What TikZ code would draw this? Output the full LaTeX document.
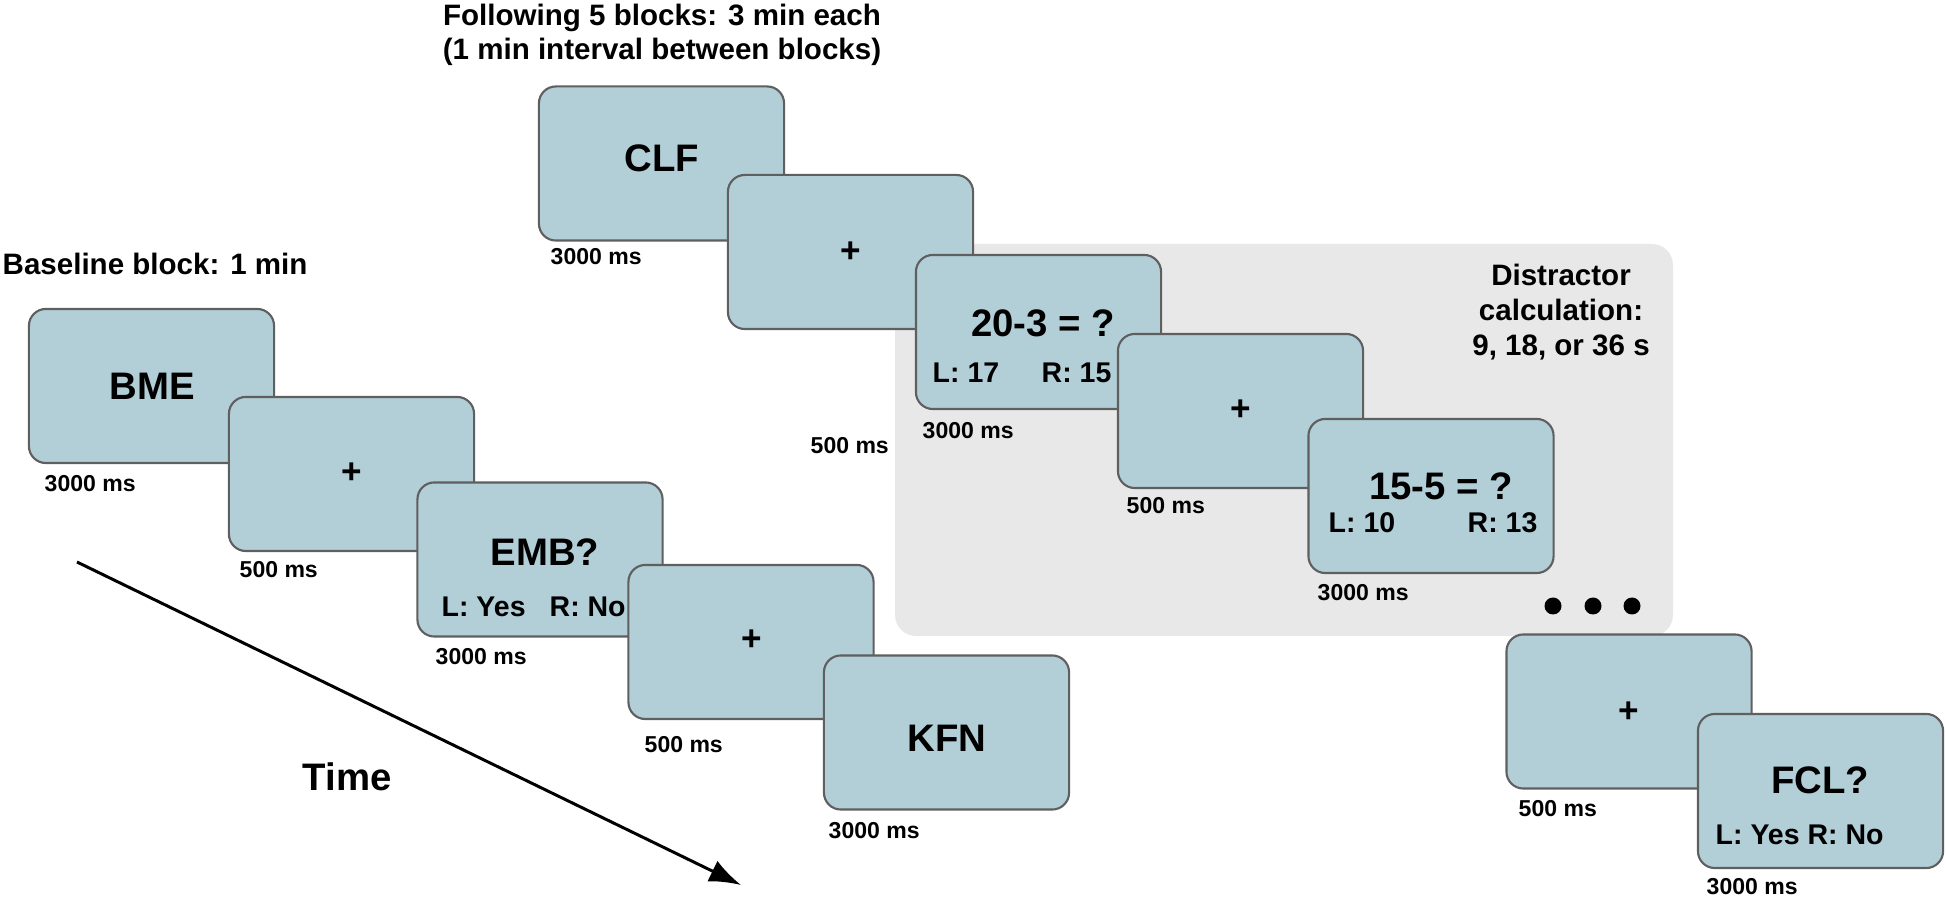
\documentclass[tikz,border=0pt]{standalone}
\usepackage{fontspec}
\setmainfont{Liberation Sans}
\usetikzlibrary{arrows.meta}
\definecolor{boxfill}{RGB}{178,206,214}
\definecolor{boxline}{RGB}{95,95,95}
\definecolor{bggray}{RGB}{232,232,232}
\tikzset{
  screen/.style={draw=boxline, line width=0.6pt, fill=boxfill, rounded corners=4.8pt,
    minimum width=2.45cm, minimum height=1.54cm, inner sep=0pt},
  big/.style={font=\fontsize{10.9pt}{12pt}\selectfont\bfseries, inner sep=0pt},
  plus/.style={font=\fontsize{10pt}{12pt}\selectfont\bfseries, inner sep=0pt},
  resp/.style={font=\fontsize{8.1pt}{10pt}\selectfont\bfseries, inner sep=0pt, anchor=west},
  dur/.style={font=\fontsize{6.55pt}{8pt}\selectfont\bfseries, inner sep=0pt, anchor=west},
  head/.style={font=\fontsize{8.4pt}{9.6pt}\selectfont\bfseries, inner sep=0pt, align=center},
}
\begin{document}
\begin{tikzpicture}[x=0.01cm,y=-0.01cm]
\useasboundingbox (0,0) rectangle (1946,898);

% distractor background
\fill[bggray, rounded corners=6pt] (895,244) rectangle (1673,636);

% titles
\node[head, anchor=west] (tbase) at (2,264) {Baseline block: 1 min};
\node[head] (tfollow) at (662,35) {Following 5 blocks: 3 min each\\(1 min interval between blocks)};
\node[head, font=\fontsize{8.4pt}{10pt}\selectfont\bfseries] (tdist) at (1561,312) {Distractor\\calculation:\\9, 18, or 36 s};

% baseline block
\node[screen] (bme) at (151.5,386) {};
\node[big] (bmet) at (152,386) {BME};
\node[dur] (bmed) at (44,484) {3000 ms};

\node[screen] (p1) at (351.5,474) {};
\node[plus] (p1t) at (352,473) {+};
\node[dur] (p1d) at (239,570) {500 ms};

\node[screen] (emb) at (540,559.5) {};
\node[big] (embt) at (545,552) {EMB?};
\node[resp] (embl) at (441,607) {L: Yes};
\node[resp] (embr) at (549,607) {R: No};
\node[dur] (embd) at (435,657) {3000 ms};

\node[screen] (p2) at (751,642) {};
\node[plus] (p2t) at (752,640) {+};
\node[dur] (p2d) at (644,745) {500 ms};

\node[screen] (kfn) at (946.5,732.5) {};
\node[big] (kfnt) at (947,738) {KFN};
\node[dur] (kfnd) at (828,831) {3000 ms};

% following blocks
\node[screen] (clf) at (661.5,163.5) {};
\node[big] (clft) at (662,158) {CLF};
\node[dur] (clfd) at (550,257) {3000 ms};

\node[screen] (p3) at (850.5,252) {};
\node[plus] (p3t) at (851,252) {+};
\node[dur] (p3d) at (810,446) {500 ms};

\node[screen] (q1) at (1038.5,332) {};
\node[big] (q1t) at (1043,323) {20-3 = ?};
\node[resp] (q1l) at (932,373) {L: 17};
\node[resp] (q1r) at (1041,373) {R: 15};
\node[dur] (q1d) at (922,431) {3000 ms};

\node[screen] (p4) at (1240.5,411) {};
\node[plus] (p4t) at (1241,410) {+};
\node[dur] (p4d) at (1126,506) {500 ms};

\node[screen] (q2) at (1431,496) {};
\node[big] (q2t) at (1441,486) {15-5 = ?};
\node[resp] (q2l) at (1328,523) {L: 10};
\node[resp] (q2r) at (1467,523) {R: 13};
\node[dur] (q2d) at (1317,593) {3000 ms};

\fill (1553,606) circle (8.5) (1593,606) circle (8.5) (1632,606) circle (8.5);

\node[screen] (p5) at (1629,711.5) {};
\node[plus] (p5t) at (1629,712) {+};
\node[dur] (p5d) at (1518,809) {500 ms};

\node[screen] (fcl) at (1820.5,791) {};
\node[big] (fclt) at (1820,780) {FCL?};
\node[resp] (fclr) at (1715,835) {L: Yes R: No};
\node[dur] (fcld) at (1706,887) {3000 ms};

% time arrow
\coordinate (ts) at (77,562);
\coordinate (te) at (741,885);
\draw[line width=0.85pt, -{Latex[length=9pt,width=6.5pt]}] (ts) -- (te);
\node[big] (time) at (347,777) {Time};
\end{tikzpicture}
\end{document}
